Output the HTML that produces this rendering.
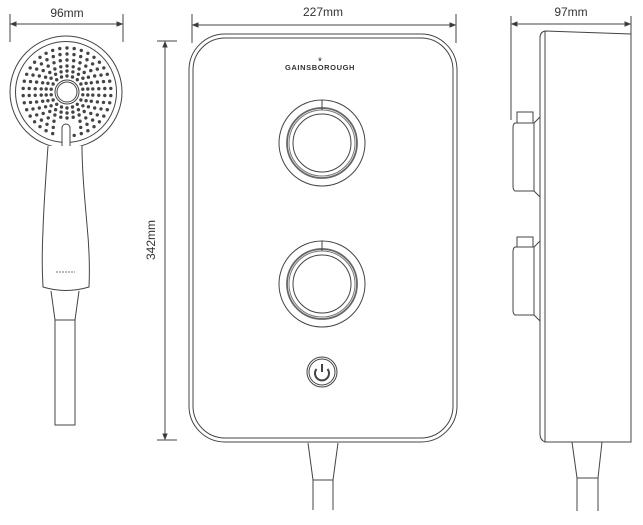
<!DOCTYPE html>
<html><head><meta charset="utf-8"><style>
html,body{margin:0;padding:0;background:#fff;}
svg{display:block;}
text{font-family:"Liberation Sans",sans-serif;fill:#333;}
</style></head><body>
<svg id="s" width="643" height="525" viewBox="0 0 643 525" xmlns="http://www.w3.org/2000/svg">
<g fill="none" stroke="#444" stroke-width="1">
<line x1="10" y1="14" x2="10" y2="42"/><line x1="123" y1="14" x2="123" y2="42"/>
<line x1="11" y1="24" x2="122" y2="24"/>
<path d="M11 24 l5 -2 v4z M122 24 l-5 -2 v4z" fill="#333"/>
<circle cx="66" cy="92" r="56"/>
<circle cx="66" cy="92" r="50.5"/>
<circle cx="67" cy="92" r="10"/>
<circle cx="67" cy="92" r="12"/>
<rect x="62" y="124" width="8" height="31" rx="4" fill="#fff"/>
<path d="M48 146 C46 175 44 200 43 230 C42 250 42 270 43 287 Q66 294 89 287 C90 265 89 245 87 225 C85 200 82 175 82 146" fill="#fff"/>
<path d="M51 291 L55 320 L75 320 L79 291"/>
<path d="M55 320 V425 H75 V320"/>
<line x1="56" y1="272" x2="75" y2="272" stroke-width="0.8" stroke-dasharray="2 1"/>
<line x1="157" y1="41" x2="177" y2="41"/><line x1="157" y1="440" x2="177" y2="440"/>
<line x1="165" y1="42" x2="165" y2="439"/>
<path d="M165 42 l-2 5 h4z M165 439 l-2 -5 h4z" fill="#333"/>
<line x1="192" y1="14" x2="192" y2="43"/><line x1="456" y1="14" x2="456" y2="43"/>
<line x1="193" y1="25" x2="455" y2="25"/>
<path d="M193 25 l5 -2 v4z M455 25 l-5 -2 v4z" fill="#333"/>
<rect x="189" y="34" width="268" height="408" rx="36"/>
<rect x="193" y="38" width="260" height="400" rx="32"/>
<circle cx="322" cy="143" r="43"/>
<circle cx="322" cy="143" r="35" stroke-width="1.8" stroke="#666"/>
<circle cx="322" cy="143" r="33" stroke="#777"/>
<circle cx="322" cy="143" r="29"/>
<line x1="322" y1="100" x2="322" y2="110"/>
<circle cx="322" cy="284" r="43"/>
<circle cx="322" cy="284" r="35" stroke-width="1.8" stroke="#666"/>
<circle cx="322" cy="284" r="33" stroke="#777"/>
<circle cx="322" cy="284" r="29"/>
<line x1="322" y1="241" x2="322" y2="251"/>
<circle cx="322" cy="372" r="15"/>
<circle cx="322" cy="372" r="13"/>
<path d="M316.5 369 A7 7 0 1 0 327.5 369" stroke-width="2"/>
<line x1="322" y1="364" x2="322" y2="372" stroke-width="2"/>
<path d="M308 443 L313 480 L333 480 L338 443"/>
<path d="M313 480 V510 M333 480 V510"/>
<line x1="511" y1="16" x2="511" y2="120"/><line x1="631" y1="16" x2="631" y2="42"/>
<line x1="512" y1="24" x2="630" y2="24"/>
<path d="M512 24 l5 -2 v4z M630 24 l-5 -2 v4z" fill="#333"/>
<path d="M545 31 L631 34 L631 442 L545 442 Q540 440 540 434 V38 Q540 32 545 31Z"/>
<line x1="545" y1="31" x2="545" y2="442"/>
<rect x="517" y="112" width="16" height="11"/>
<path d="M515 123 H534 L540 117 M534 123 V191 M540 197 L534 191 H515 Q513 190 513 186 V128 Q513 124 515 123"/>
<rect x="517" y="237" width="16" height="10"/>
<path d="M515 247 H534 L540 241 M534 247 V315 M540 321 L534 315 H515 Q513 314 513 310 V252 Q513 248 515 247"/>
<path d="M572 442 L577 478 L598 478 L602 442"/>
<path d="M577 478 V511 M598 478 V511"/>
</g>
<g id="dots" fill="#444"></g>
<text x="67" y="17" font-size="12" text-anchor="middle">96mm</text>
<text x="323" y="16" font-size="12" text-anchor="middle">227mm</text>
<text x="571" y="16" font-size="12" text-anchor="middle">97mm</text>
<text transform="translate(155 240) rotate(-90)" font-size="12" text-anchor="middle">342mm</text>
<text x="320" y="70" font-size="7.5" text-anchor="middle" letter-spacing="0.6" font-weight="bold">GAINSBOROUGH</text>
<text x="320" y="61" font-size="5" text-anchor="middle">♛</text>
</svg>
<script>
var g=document.getElementById('dots'),s='';
var rings=[[16,18],[21,22],[26,26],[32,30],[38,34],[44,38]];
rings.forEach(function(r,i){for(var k=0;k<r[1];k++){var a=k/r[1]*2*Math.PI;var x=67+r[0]*Math.sin(a),y=92+r[0]*Math.cos(a);if(i>=3&&Math.abs(x-66)<8&&y>115)continue;s+='<circle cx="'+x.toFixed(1)+'" cy="'+y.toFixed(1)+'" r="1.7"/>';}});
g.innerHTML=s;
</script>
</body></html>
